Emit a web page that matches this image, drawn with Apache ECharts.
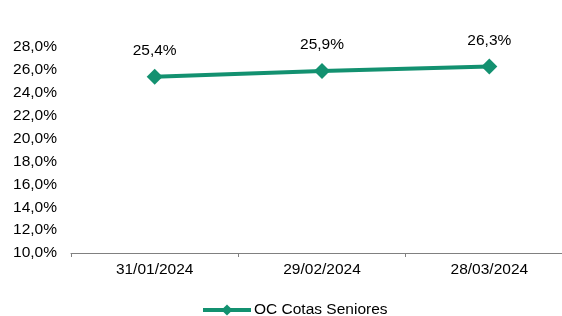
<!DOCTYPE html>
<html>
<head>
<meta charset="utf-8">
<script src="https://cdn.jsdelivr.net/npm/echarts@6/dist/echarts.min.js"></script>
<style>
  html, body { margin: 0; padding: 0; background: #fff; }
  #chart { width: 562px; height: 316px; }
</style>
</head>
<body>
<div id="chart"></div>
<script>
const categories = ['31/01/2024', '29/02/2024', '28/03/2024'];
const ocValues = [25.4, 25.9, 26.3];
const seriesName = 'OC Cotas Seniores';

const chart = echarts.init(document.getElementById('chart'));
const fmt = (v, d) => v.toFixed(d).replace('.', ',') + '%';

chart.setOption({
  animation: false,
  textStyle: { fontFamily: 'Liberation Sans, Arial, sans-serif' },
  grid: { left: 71, width: 502, top: 47, height: 206, containLabel: false, outerBoundsMode: 'none' },
  legend: {
    left: 201,
    top: 302,
    padding: 0,
    itemWidth: 48,
    itemHeight: 14,
    itemGap: 0,
    lineStyle: { width: 4 },
    textStyle: { fontSize: 15.5, color: '#000', padding: [0, 0, 0, -2] },
    data: [seriesName]
  },
  xAxis: {
    type: 'category',
    data: categories,
    boundaryGap: true,
    axisLine: { lineStyle: { color: '#808080', width: 1 } },
    axisTick: { show: true, length: 4, lineStyle: { color: '#808080' } },
    axisLabel: { color: '#000', fontSize: 15.5, margin: 9 }
  },
  yAxis: {
    type: 'value',
    min: 10,
    max: 28,
    interval: 2,
    axisLine: { show: false },
    axisTick: { show: false },
    splitLine: { show: false },
    axisLabel: { color: '#000', fontSize: 15.5, margin: 14, formatter: v => fmt(v, 1) }
  },
  series: [{
    name: seriesName,
    type: 'line',
    data: ocValues,
    symbol: 'diamond',
    symbolSize: 16,
    lineStyle: { color: '#139170', width: 4 },
    itemStyle: { color: '#139170' },
    label: {
      show: true,
      position: 'top',
      distance: 10,
      color: '#000',
      fontSize: 15.5,
      formatter: p => fmt(p.value, 1)
    }
  }]
});
</script>
</body>
</html>
